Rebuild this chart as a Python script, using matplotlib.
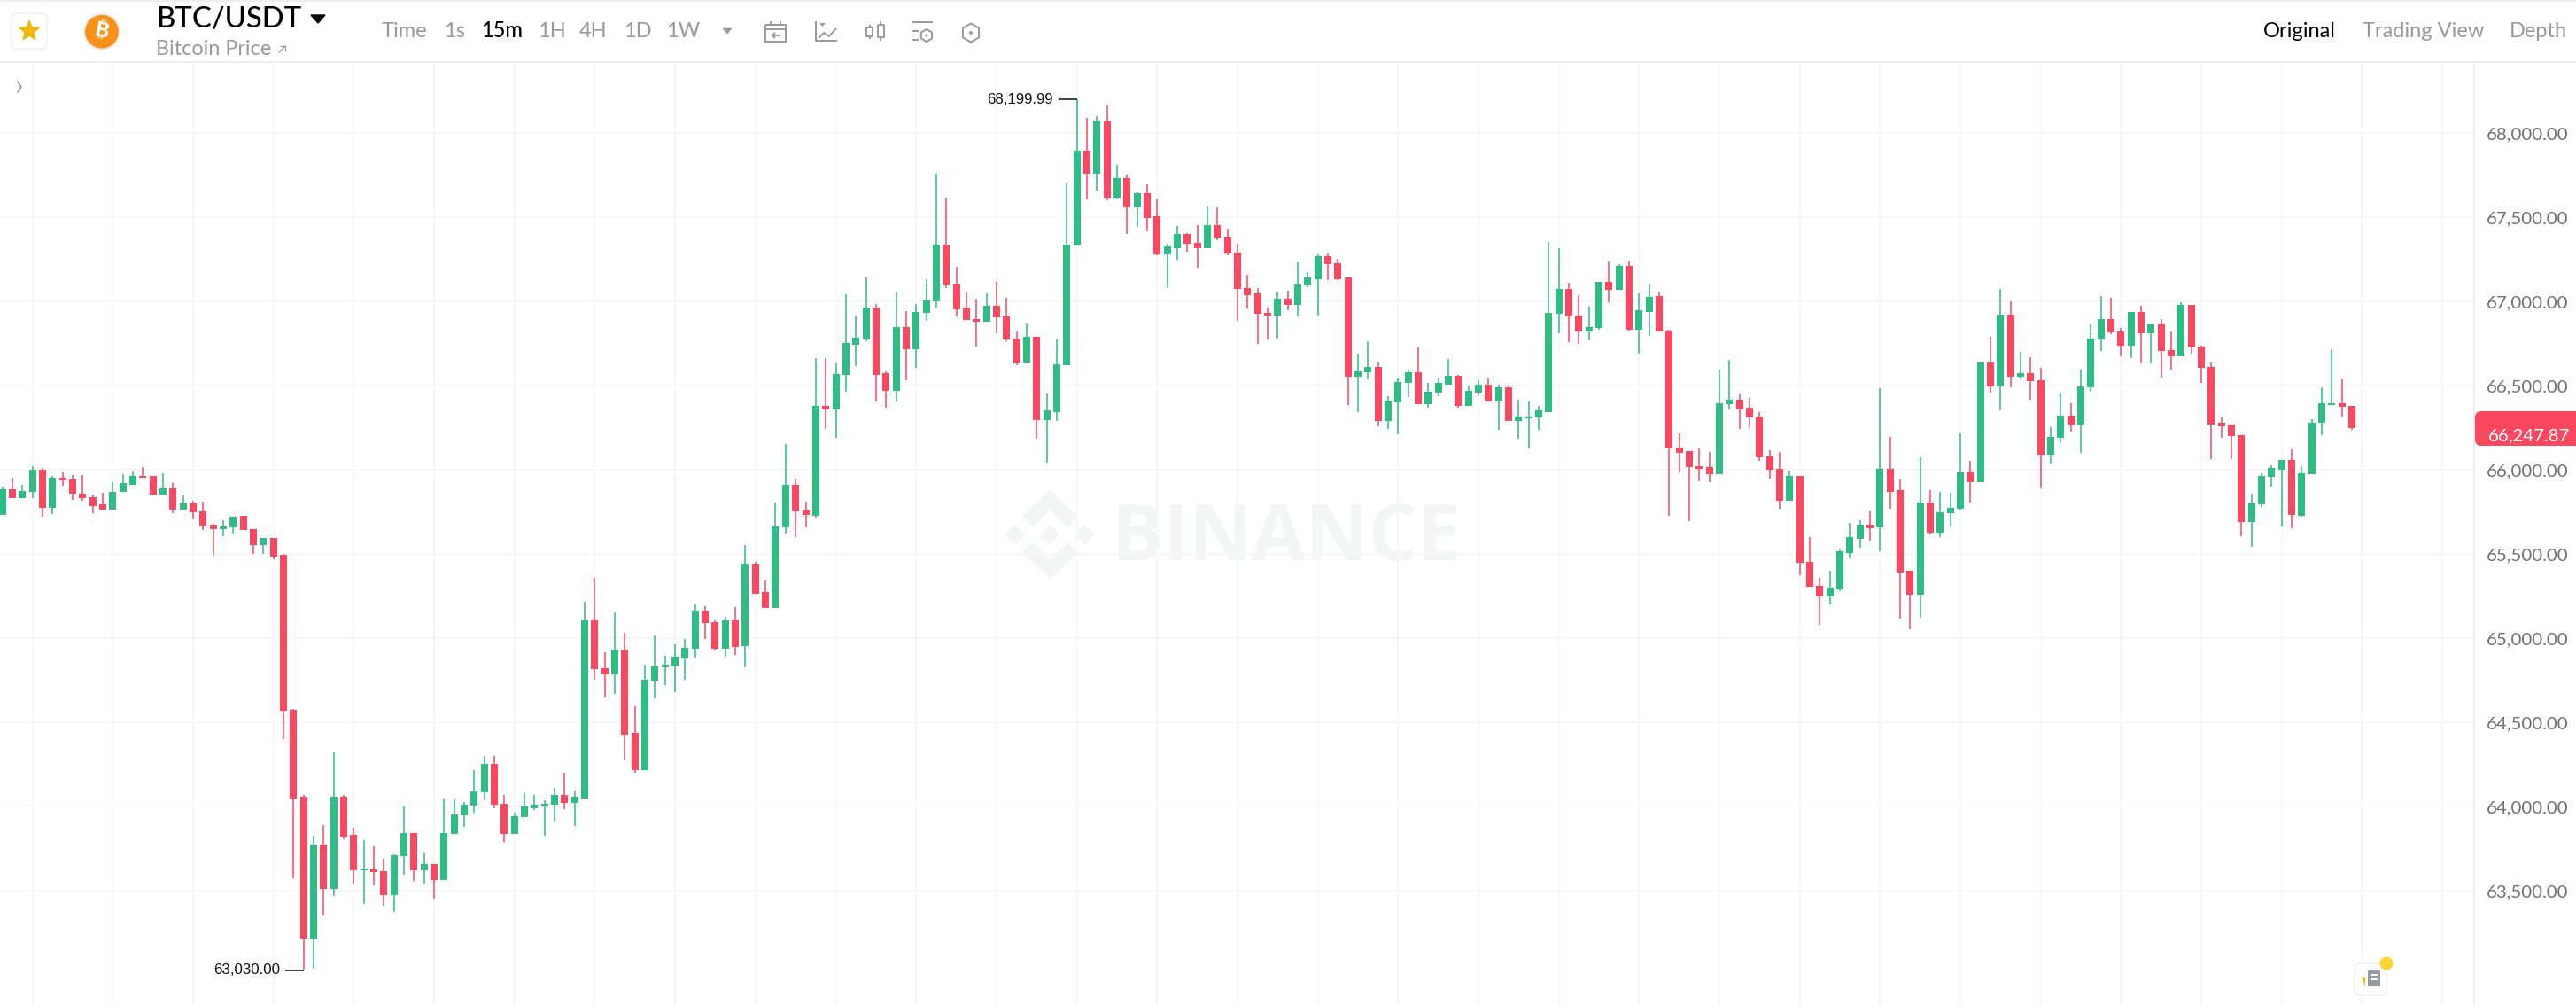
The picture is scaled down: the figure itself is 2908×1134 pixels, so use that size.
#!/usr/bin/env python3

"""
BTC/USDT 15m candlestick chart, Binance price page
"""

import numpy as np
import matplotlib
matplotlib.use("Agg")
import matplotlib.pyplot as plt
from matplotlib.patches import Polygon, Circle, FancyBboxPatch, Rectangle

# prices
opens = [
    65732,65888,65831,65871,66002,65774,65954,65945,65862,65840,
    65794,65765,65868,65914,65965,65963,65855,65893,65765,65800,
    65752,65675,65649,65660,65726,65647,65555,65594,65498,64575,
    64057,63215,63774,63511,64061,63831,63621,63630,63616,63474,
    63706,63844,63623,63660,63564,63840,63949,64007,64084,64253,
    64016,63839,63940,63993,64004,64012,64068,64025,64051,65109,
    64823,64788,64935,64437,64220,64748,64827,64835,64883,64937,
    65165,65098,64941,65105,64953,65446,65276,65181,65660,65914,
    65760,65730,66379,66357,66565,66744,66776,66963,66576,66469,
    66848,66720,66935,67000,67340,67107,66965,66897,66881,66976,
    66914,66781,66635,66793,66297,66346,66621,67335,67898,67760,
    68075,67616,67732,67560,67644,67505,67281,67318,67400,67349,
    67316,67453,67386,67293,67083,67049,66933,66919,67016,66981,
    67095,67135,67270,67230,67142,66553,66581,66614,66293,66404,
    66518,66579,66392,66460,66509,66560,66381,66462,66507,66409,
    66491,66290,66306,66314,66346,66928,67074,66918,66821,66842,
    67116,67070,67214,66835,66940,67032,66830,66135,66112,66023,
    66016,65974,66390,66416,66369,66318,66079,66009,65816,65963,
    65455,65314,65251,65293,65509,65592,65674,65660,66009,65879,
    65399,65262,65809,65628,65744,65769,65986,65930,66640,66497,
    66923,66554,66577,66533,66090,66190,66325,66272,66490,66777,
    66897,66823,66740,66940,66814,66865,66712,66674,66979,66735,
    66612,66279,66272,66207,65693,65795,65960,66004,66060,65730,
    65976,66279,66384,66398,66383,
]
closes = [
    65888,65831,65875,66000,65774,65954,65936,65857,65833,65787,
    65765,65871,65921,65965,65952,65855,65893,65763,65800,65748,
    65669,65647,65664,65724,65643,65555,65594,65487,64570,64048,
    63215,63774,63511,64059,63822,63623,63632,63612,63474,63713,
    63844,63623,63660,63566,63846,63953,64010,64089,64253,64010,
    63840,63946,64000,64014,64016,64068,64025,64058,65109,64818,
    64788,64935,64430,64220,64755,64834,64842,64891,64944,65165,
    65090,64937,65105,64951,65446,65267,65181,65667,65914,65754,
    65732,66379,66357,66572,66753,66784,66963,66567,66469,66848,
    66720,66941,67007,67340,67098,66956,66891,66883,66976,66909,
    66774,66635,66793,66297,66353,66628,67340,67898,67760,68075,
    67616,67732,67560,67644,67498,67279,67326,67400,67342,67318,
    67453,67379,67284,67074,67040,66926,66918,67018,66981,67104,
    67142,67272,67221,67132,66555,66588,66614,66293,66411,66525,
    66579,66392,66467,66516,66558,66379,66469,66507,66409,66491,
    66290,66316,66320,66353,66935,67074,66912,66821,66848,67116,
    67070,67214,66835,66947,67030,66821,66128,66104,66016,66007,
    65974,66397,66416,66360,66311,66074,66002,65816,65963,65448,
    65307,65251,65299,65516,65599,65674,65656,66009,65872,65392,
    65262,65809,65627,65751,65776,65986,65930,66640,66497,66923,
    66556,66577,66526,66090,66195,66325,66272,66497,66783,66897,
    66816,66740,66940,66814,66865,66705,66674,66979,66728,66605,
    66272,66262,66200,65693,65802,65967,66011,66060,65732,65983,
    66283,66395,66398,66377,66247.87,
]
highs = [
    65899,65954,65914,66024,66011,65963,65985,65969,65969,65855,
    65866,65930,65974,65989,66018,65963,65982,65923,65849,65816,
    65814,65680,65702,65724,65726,65647,65594,65594,65504,64579,
    64072,63827,63893,64327,64068,63877,63800,63765,63691,63715,
    64004,63844,63726,63660,64049,64049,64026,64217,64304,64304,
    64072,63967,64079,64068,64040,64110,64202,64095,65216,65358,
    64920,65156,65032,64595,64842,65018,64897,64967,64998,65204,
    65191,65105,65128,65186,65553,65453,65344,65805,66156,65947,
    65811,66663,66667,66634,67042,66916,67149,66984,66585,67053,
    66944,66984,67135,67758,67618,67209,67055,67016,67049,67119,
    67023,66825,66870,66793,66453,66774,67702,68199.99,68091,68100,
    68163,67811,67753,67647,67698,67611,67342,67447,67407,67456,
    67570,67560,67433,67342,67158,67083,66965,67058,67067,67233,
    67177,67282,67288,67254,67146,66690,66767,66644,66439,66544,
    66598,66728,66520,66548,66658,66567,66504,66535,66546,66509,
    66495,66420,66406,66383,67356,67316,67111,67040,66969,67116,
    67239,67225,67240,67047,67109,67061,66832,66216,66112,66127,
    66107,66597,66654,66451,66426,66342,66118,66105,65998,65963,
    65600,65360,65404,65530,65686,65699,65753,66488,66195,65944,
    65404,66076,65881,65869,65867,66218,66056,66640,66793,67075,
    67002,66700,66668,66607,66253,66453,66397,66595,66865,67035,
    67025,66842,66940,66974,66865,66898,66821,66995,66979,66737,
    66637,66311,66272,66207,65858,65979,66027,66062,66125,66023,
    66304,66490,66718,66537,66383,
]
lows = [
    65732,65831,65831,65833,65724,65737,65906,65825,65816,65746,
    65757,65765,65868,65914,65952,65853,65855,65746,65765,65708,
    65643,65489,65605,65625,65643,65502,65502,65469,64401,63575,
    63030,63039,63353,63471,63809,63542,63423,63535,63414,63375,
    63596,63559,63546,63454,63564,63840,63879,63967,64040,63993,
    63791,63839,63940,63979,63826,63912,63988,63888,64051,64756,
    64651,64672,64278,64199,64220,64642,64725,64681,64755,64888,
    64998,64934,64893,64904,64827,65263,65181,65181,65623,65600,
    65658,65718,66242,66190,66467,66620,66765,66406,66371,66406,
    66535,66609,66884,66963,67083,66914,66891,66734,66881,66813,
    66767,66621,66635,66185,66043,66290,66621,67335,67609,67660,
    67600,67614,67400,67442,67419,67276,67079,67251,67298,67200,
    67316,67365,67277,66886,66962,66749,66777,66783,66949,66911,
    67084,66916,67126,67130,66386,66346,66541,66260,66244,66214,
    66435,66392,66369,66439,66509,66369,66381,66442,66409,66239,
    66290,66186,66130,66237,66346,66812,66762,66751,66772,66833,
    66998,67070,66826,66690,66798,66821,65727,65986,65697,65932,
    65930,65974,66358,66242,66249,66053,65951,65770,65816,65376,
    65307,65081,65204,65281,65476,65537,65579,65520,65769,65120,
    65053,65123,65620,65604,65663,65760,65806,65928,66458,66356,
    66493,66540,66416,65891,66039,66163,66226,66100,66465,66709,
    66809,66677,66667,66633,66633,66547,66597,66674,66684,66516,
    66067,66193,66063,65607,65542,65781,65900,65663,65653,65723,
    65976,66209,66384,66316,66241,
]
price_ticks = [63500, 64000, 64500, 65000, 65500, 66000, 66500, 67000, 67500, 68000]
interval_labels = ["Time", "1s", "15m", "1H", "4H", "1D", "1W"]
view_labels = ["Original", "Trading View", "Depth"]

W, H = 2908, 1134
GREEN = "#2ebd85"
RED = "#fb4760"
GREY = "#999999"
GRID = "#f6f6f6"

opens, closes = np.array(opens), np.array(closes)
highs, lows = np.array(highs), np.array(lows)
idx = np.arange(len(opens))
up = closes >= opens

fig = plt.figure(figsize=(W/100, H/100), dpi=100, facecolor="white")

# overlay in pixels for the page furniture
ui = fig.add_axes([0, 0, 1, 1], zorder=3)
ui.set_xlim(0, W)
ui.set_ylim(H, 0)
ui.axis("off")
ui.patch.set_alpha(0)

# price axes, 2793 px wide below the 70 px header
plot_top, plot_right = 70, 2793
ax = fig.add_axes([0, 0, plot_right/W, (H-plot_top)/H], zorder=2)
step = 11.335     # px per candle
px_per_usd = 0.19
ax.set_xlim(-2.7/step, (plot_right-2.7)/step)
ax.set_ylim(68000-(H-150.3)/px_per_usd, 68000+(150.3-plot_top)/px_per_usd)
ax.patch.set_alpha(0)

# watermark goes under the grid
wm = fig.add_axes([0, 0, 1, 1], zorder=1)
wm.set_xlim(0, W)
wm.set_ylim(H, 0)
wm.axis("off")
wm_col = "#f4f6f6"
cx, cy = 1185.4, 603
top_chev = np.array([(0,-50.7),(31.7,-20),(20,-8.3),(0,-27.7),(-19.6,-8.3),(-31.7,-20)])
wm.add_patch(Polygon(top_chev+[cx,cy], color=wm_col, lw=0))
wm.add_patch(Polygon(top_chev*[1,-1]+[cx,cy], color=wm_col, lw=0))
for dx in (-39.6, 0, 39.6):
    diamond = np.array([(0,-11.5),(11.5,0),(0,11.5),(-11.5,0)])
    wm.add_patch(Polygon(diamond+[cx+dx,cy], color=wm_col, lw=0))
wm.text(1254, 609, "BINANCE", family="Open Sans", weight="bold", fontsize=63,
        color=wm_col, va="center", ha="left")

# candles
colors = np.where(up, GREEN, RED)
ax.vlines(idx, lows, highs, colors=colors, lw=1.1, zorder=3)
ax.bar(idx, np.maximum(np.abs(closes-opens), 6), bottom=np.minimum(opens, closes),
       width=8/step, color=colors, lw=0, zorder=4)

ax.set_yticks(price_ticks)
ax.set_yticklabels([f"{p:,.2f}" for p in price_ticks], family="Lato", fontsize=14.7, color="#707070")
ax.yaxis.tick_right()
ax.tick_params(axis="y", length=0, pad=10)
ax.set_xticks(np.arange(3, 244, 8))
ax.tick_params(axis="x", length=0, labelbottom=False)
ax.grid(True, color=GRID, lw=1.2, zorder=0)
ax.set_axisbelow(True)
for side in ("top", "left", "bottom"):
    ax.spines[side].set_visible(False)
ax.spines["right"].set_color("#efefef")
ax.spines["right"].set_linewidth(1.4)

# high / low markers
hi_i, lo_i = highs.argmax(), lows.argmin()
ax.hlines(highs[hi_i], hi_i-21/step, hi_i, color="#222222", lw=1.2, zorder=5)
ax.hlines(lows[lo_i], lo_i-21/step, lo_i, color="#222222", lw=1.2, zorder=5)
ax.text(hi_i-27/step, highs[hi_i], f"{highs[hi_i]:,.2f}", ha="right", va="center",
        family="Liberation Sans", fontsize=12.2, color="#111111")
ax.text(lo_i-27/step, lows[lo_i], f"{lows[lo_i]:,.2f}", ha="right", va="center",
        family="Liberation Sans", fontsize=12.2, color="#111111")

# last price tag
ui.add_patch(FancyBboxPatch((2800, 470), 114, 27, boxstyle="round,pad=6,rounding_size=7",
                            fc=RED, ec="none"))
ui.text(2901, 492, f"{closes[-1]:,.2f}", ha="right", va="center", family="Lato",
        fontsize=14.7, color="white")

# header rules
ui.add_patch(Rectangle((0, 0), W, 1.5, fc="#eeeeee", ec="none"))
ui.add_patch(Rectangle((0, 69), W, 2, fc="#eeeeee", ec="none"))
ui.plot([20, 24, 20], [92, 98, 104], color="#888888", lw=1)

# favourite button
ui.add_patch(FancyBboxPatch((20, 22), 26, 26, boxstyle="round,pad=7,rounding_size=6",
                            fc="white", ec="#eeeeee", lw=1))
angles = np.deg2rad(np.arange(10)*36-90)
radii = np.where(np.arange(10) % 2 == 0, 11.5, 5)
ui.add_patch(Polygon(np.c_[33+radii*np.cos(angles), 35+radii*np.sin(angles)], fc="#f0b90b",
                     ec="#f0b90b", lw=1.2, joinstyle="round"))

# coin
ui.add_patch(Circle((115, 35.7), 20, fc="#f7931a", ec="#eeeeee", lw=1.5))
ui.text(115, 35.5, "\u20bf", family=["Inter", "Noto Sans", "Roboto", "Open Sans", "Lato"],
        weight="bold", fontsize=17, color="white", rotation=-12, ha="center", va="center")

# title
ui.text(176, 22, "BTC/USDT", family="Lato", fontsize=23.6, weight="medium", color="black",
        ha="left", va="center")
ui.add_patch(Polygon([(351,17),(367,17),(359,26)], fc="black", ec="black", lw=1))
ui.text(176, 55, "Bitcoin Price", family="Lato", fontsize=16.8, color=GREY, ha="left", va="center")
ui.plot([315, 322], [59, 52], color=GREY, lw=0.9)
ui.plot([317, 322, 322], [52, 52, 57], color=GREY, lw=0.9)

# interval buttons
interval_x = [431, 501, 543, 607, 654, 704, 752]
for lab, x in zip(interval_labels, interval_x):
    ui.text(x, 35, lab, family="Lato", fontsize=17, ha="left", va="center",
            color="black" if lab == "15m" else GREY, weight="medium" if lab == "15m" else "normal")
ui.add_patch(Polygon([(816,32),(826,32),(821,38)], fc=GREY, ec=GREY, lw=0.5))

# toolbar icons
ic = dict(color=GREY, lw=1.4, solid_capstyle="butt")
ui.plot([864,887,887,864,864], [28,28,47,47,28], **ic)
ui.plot([864,887], [33,33], **ic)
ui.plot([870,870], [24,28], **ic)
ui.plot([881,881], [24,28], **ic)
ui.plot([872,880], [40,40], **ic)
ui.plot([875,872,875], [37,40,43], **ic)

ui.plot([921,921,945], [24,46,46], **ic)
ui.plot([924,930,936,944], [43,37,41,32], **ic)
ui.add_patch(Polygon([(925,26),(932,26),(928.5,30)], fc=GREY, ec="none"))

for xc, y0, y1, w0, w1 in [(981.5,31,41,28,44), (994,28,42,24,46)]:
    ui.plot([xc-3.5,xc+3.5,xc+3.5,xc-3.5,xc-3.5], [y0,y0,y1,y1,y0], **ic)
    ui.plot([xc,xc], [w0,y0], **ic)
    ui.plot([xc,xc], [y1,w1], **ic)

ui.plot([1030,1053], [25,25], **ic)
ui.plot([1030,1037], [35,35], **ic)
ui.plot([1030,1037], [45,45], **ic)
for xc, yc, r, d in [(1046,40,7,2), (1096,37,10.5,2.5)]:
    a = np.deg2rad(np.arange(7)*60+90)
    ui.plot(xc+r*np.cos(a), yc+r*np.sin(a), color=GREY, lw=1.4)
    ui.add_patch(Polygon([(xc,yc-d),(xc+d,yc),(xc,yc+d),(xc-d,yc)], fc=GREY, ec="none"))

# view switch
view_x = [2555, 2667, 2833]
for lab, x in zip(view_labels, view_x):
    ui.text(x, 35, lab, family="Lato", fontsize=17, ha="left", va="center",
            color="black" if lab == "Original" else GREY)

# news button
ui.add_patch(FancyBboxPatch((2664, 1093), 24, 24, boxstyle="round,pad=6,rounding_size=6",
                            fc="white", ec="#eeeeee", lw=1))
ui.add_patch(Rectangle((2673, 1095), 14, 18, fc="#949ba6", ec="none"))
ui.add_patch(Rectangle((2677, 1099), 7, 2, fc="white", ec="none"))
ui.add_patch(Rectangle((2677, 1104), 7, 2, fc="white", ec="none"))
ui.add_patch(Polygon([(2666,1103),(2670,1102),(2670,1113)], fc="#f0b90b", ec="none"))
ui.add_patch(Circle((2694, 1087), 7.5, fc="#fcd535", ec="none"))

fig.savefig("out.png", dpi=100)
